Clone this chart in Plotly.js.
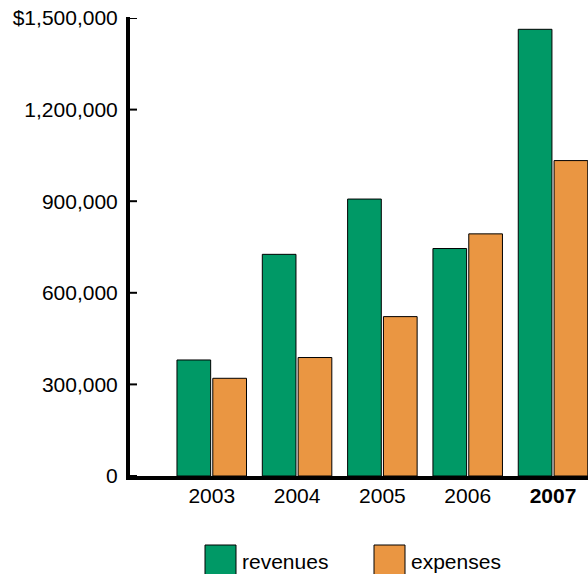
<!DOCTYPE html>
<html>
<head>
<meta charset="utf-8">
<script src="https://cdn.plot.ly/plotly-3.0.1.min.js"></script>
<style>html,body{margin:0;padding:0;background:#fff;}#chart{width:588px;height:574px;}</style>
</head>
<body>
<div id="chart"></div>
<script>
var years = ["2003", "2004", "2005", "2006", "2007"];
var yearLabels = ["2003", "2004", "2005", "2006", "<b>2007</b>"];
var seriesNames = ["revenues", "expenses"];
var revenues = [380000, 726000, 907000, 745000, 1463000];
var expenses = [320000, 388000, 522000, 793000, 1033000];
var yTickVals = [0, 300000, 600000, 900000, 1200000, 1500000];
var yTickText = ["0", "300,000", "600,000", "900,000", "1,200,000", "$1,500,000"];
var colors = ["#009966", "#EA9642"];

var FONT = "Liberation Sans, Arial, sans-serif";
var L = 130, R = 588, T = 18, B = 476;
function px(x) { return (x - L) / (R - L); }
function py(y) { return (B - y) / (B - T); }

var data = [
  {type: "bar", x: years, y: revenues, name: seriesNames[0],
   marker: {color: colors[0], line: {color: "#000", width: 1}}, showlegend: false},
  {type: "bar", x: years, y: expenses, name: seriesNames[1],
   marker: {color: colors[1], line: {color: "#000", width: 1}}, showlegend: false}
];

var shapes = [], annotations = [];
// y-axis line and inside ticks
shapes.push({type: "line", xref: "paper", yref: "paper", layer: "above",
  x0: px(128), x1: px(128), y0: py(480), y1: py(17), line: {color: "#000", width: 4}});
for (var k = 0; k < yTickVals.length; k++) {
  shapes.push({type: "line", xref: "paper", yref: "y", layer: "above",
    x0: px(128), x1: px(137), y0: yTickVals[k], y1: yTickVals[k], line: {color: "#000", width: 2}});
}
var legendBoxes = [[205, 236], [374, 405]];
var legendText = [240, 409];
for (var i = 0; i < 2; i++) {
  shapes.push({type: "rect", xref: "paper", yref: "paper",
    x0: px(legendBoxes[i][0]), x1: px(legendBoxes[i][1]), y0: py(545), y1: py(577),
    fillcolor: colors[i], line: {color: "#000", width: 1}});
  annotations.push({xref: "paper", yref: "paper", x: px(legendText[i]), y: py(561),
    xanchor: "left", yanchor: "middle", showarrow: false, text: seriesNames[i],
    font: {family: FONT, size: 21, color: "#000"}});
}

var layout = {
  width: 588, height: 574,
  margin: {l: L, r: 588 - R, t: T, b: 574 - B, pad: 0},
  paper_bgcolor: "#fff", plot_bgcolor: "#fff",
  font: {family: FONT, size: 21, color: "#000"},
  barmode: "group", bargap: 0.16, bargroupgap: 0.06,
  xaxis: {type: "category", range: [-0.958, 4.41], tickvals: years, ticktext: yearLabels,
    showline: true, linecolor: "#000", linewidth: 4, ticks: "", showgrid: false,
    zeroline: false, ticklabelstandoff: -2, tickfont: {family: FONT, size: 21, color: "#000"}},
  yaxis: {range: [0, 1500000], tickvals: yTickVals, ticktext: yTickText,
    showline: true, linecolor: "#000", linewidth: 4, ticks: "", showgrid: false, zeroline: false,
    ticklabelstandoff: 4, tickfont: {family: FONT, size: 21, color: "#000"}},
  shapes: shapes, annotations: annotations, showlegend: false
};

Plotly.newPlot("chart", data, layout, {staticPlot: true, displayModeBar: false});
</script>
</body>
</html>
